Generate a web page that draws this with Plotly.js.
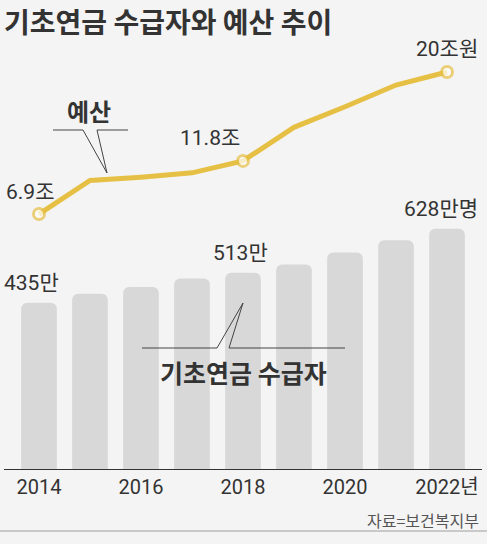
<!DOCTYPE html>
<html><head><meta charset="utf-8">
<script src="https://cdn.plot.ly/plotly-3.0.1.min.js"></script>
<style>html,body{margin:0;padding:0;background:#f4f4f4}</style>
</head><body><div id="chart" style="width:487px;height:544px"></div>
<script>
const years = [2014, 2015, 2016, 2017, 2018, 2019, 2020, 2021, 2022];
const recipients = [435, 458, 476, 498, 513, 535, 566, 598, 628];   // 만명
const budget = [6.9, 10.0, 10.3, 10.7, 11.8, 14.9, 16.8, 18.8, 20.0]; // 조원
const tickYears = [2014, 2016, 2018, 2020, 2022];
const tickLabels = ['2014', '2016', '2018', '2020', '2022년'];
const recipientLabels = {0: '435만', 4: '513만', 8: '628만명'};
const budgetLabels = {0: '6.9조', 4: '11.8조', 8: '20조원'};

const W = 487, H = 544, L = 4, R = 5, T = 60, B = 75;
const PW = W - L - R, PH = H - T - B;
const px = x => (x - L) / PW;
const py = y => (H - B - y) / PH;

const NUM = 'Roboto, "Noto Sans CJK KR", sans-serif';
const KR = '"Noto Sans CJK KR", sans-serif';
const TXT = '#333333';
const GOLD = '#E6C045';

const bars = {
  type: 'bar', x: years, y: recipients, width: 0.7,
  marker: {color: '#d8d8d8', cornerradius: 6},
  hoverinfo: 'skip'
};
const line = {
  type: 'scatter', mode: 'lines+markers', x: years, y: budget, yaxis: 'y2',
  line: {color: GOLD, width: 5},
  marker: {
    size: budget.map((v, i) => (i in budgetLabels) ? 11 : 0.1),
    color: '#ffffff', line: {color: GOLD, width: 3}
  },
  hoverinfo: 'skip'
};

const annotations = [];
const shiftsBar = {0: [-7, 6], 4: [-3, 6], 8: [-6, 6]};
for (const i in recipientLabels) {
  annotations.push({
    x: years[i], y: recipients[i], xref: 'x', yref: 'y', text: recipientLabels[i],
    showarrow: false, yanchor: 'bottom', xshift: shiftsBar[i][0], yshift: shiftsBar[i][1],
    font: {family: NUM, size: 21, color: TXT}
  });
}
const shiftsLine = {0: [-9, 8], 4: [-33, 9], 8: [0, 9]};
for (const i in budgetLabels) {
  annotations.push({
    x: years[i], y: budget[i], xref: 'x', yref: 'y2', text: budgetLabels[i],
    showarrow: false, yanchor: 'bottom', xshift: shiftsLine[i][0], yshift: shiftsLine[i][1],
    font: {family: NUM, size: 21, color: TXT}
  });
}
annotations.push(
  {xref: 'paper', yref: 'paper', x: px(89), y: py(110), xanchor: 'center', yanchor: 'middle',
   text: '<b>예산</b>', showarrow: false, font: {family: KR, size: 24, color: TXT}},
  {xref: 'paper', yref: 'paper', x: px(243), y: py(372), xanchor: 'center', yanchor: 'middle',
   text: '<b>기초연금 수급자</b>', showarrow: false, font: {family: KR, size: 25, color: TXT}},
  {xref: 'paper', yref: 'paper', x: px(481), y: py(520), xanchor: 'right', yanchor: 'middle',
   text: '자료=보건복지부', showarrow: false, font: {family: KR, size: 16, color: '#555555'}}
);

const pathOf = pts => pts.map((p, k) => (k ? 'L' : 'M') + px(p[0]) + ',' + py(p[1])).join(' ');
const shapes = [
  {type: 'path', xref: 'paper', yref: 'paper', line: {color: '#444', width: 1},
   path: pathOf([[53,130],[83,130],[107,173],[97,130],[128,130]])},
  {type: 'path', xref: 'paper', yref: 'paper', line: {color: '#444', width: 1},
   path: pathOf([[142,348],[217,348],[243,303],[229,348],[345,348]])},
  {type: 'line', xref: 'paper', yref: 'paper', x0: px(0), x1: px(487), y0: py(531), y1: py(531),
   line: {color: '#bbbbbb', width: 1.5}}
];

const layout = {
  width: W, height: H,
  margin: {l: L, r: R, t: T, b: B},
  paper_bgcolor: '#f4f4f4', plot_bgcolor: '#f4f4f4',
  showlegend: false,
  title: {text: '<b>기초연금 수급자와 예산 추이</b>', xref: 'container', yref: 'container',
          x: 4 / W, xanchor: 'left', y: 1 - 23 / H, yanchor: 'middle',
          font: {family: KR, size: 28, color: TXT}},
  xaxis: {range: [2013.314, 2022.686], tickmode: 'array', tickvals: tickYears, ticktext: tickLabels,
          showgrid: false, zeroline: false, showline: true, linecolor: '#333', linewidth: 1,
          ticks: '', tickfont: {family: NUM, size: 20, color: TXT}, fixedrange: true},
  yaxis: {range: [0, PH * 2.615], visible: false, showgrid: false, zeroline: false, fixedrange: true},
  yaxis2: {range: [-16.62, 21.11], overlaying: 'y', visible: false, showgrid: false, zeroline: false, fixedrange: true},
  annotations, shapes
};

Plotly.newPlot('chart', [bars, line], layout, {displayModeBar: false, staticPlot: true});
</script></body></html>
